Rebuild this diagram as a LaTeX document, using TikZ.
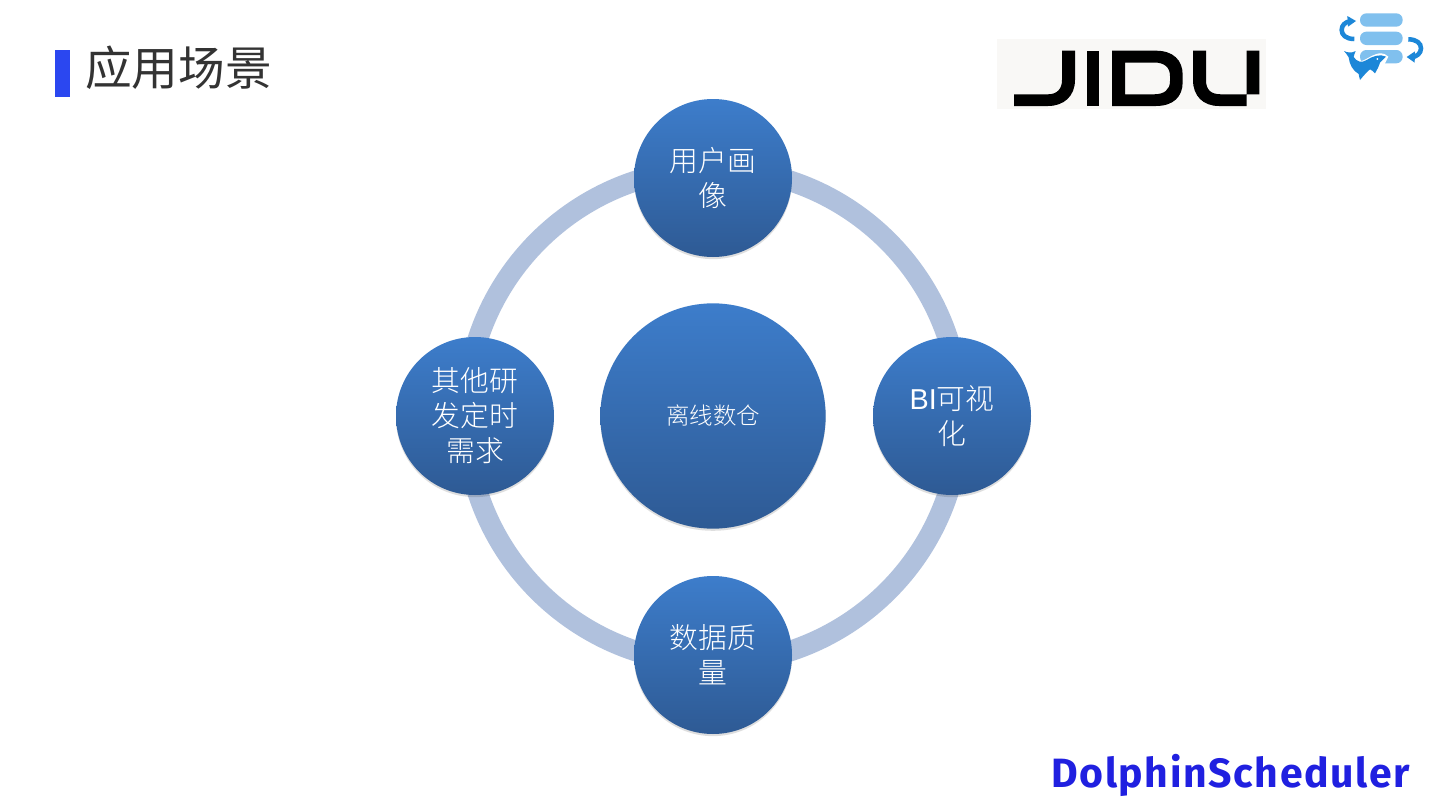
\documentclass[tikz,border=0pt]{standalone}
\usepackage{fontspec}
\usepackage{graphicx}
\setmainfont{Liberation Sans}
\newfontfamily\cjk{Noto Sans CJK SC}[UprightFont=* Light]
\newfontfamily\cjkr{Noto Sans CJK SC}
\newfontfamily\brand{Fira Sans}[UprightFont=* Bold,LetterSpace=4]
\usetikzlibrary{shadows}
\definecolor{ringc}{HTML}{B0C1DD}
\definecolor{topb}{HTML}{3D7DCB}
\definecolor{botb}{HTML}{2E5A94}
\definecolor{barblue}{HTML}{2B47F0}
\definecolor{iconlight}{HTML}{80C0EE}
\definecolor{icondark}{HTML}{1C87D8}
\definecolor{brandblue}{HTML}{2020E0}
\definecolor{logobg}{HTML}{F9F8F6}
\tikzset{
  ball/.style={circle,inner sep=0pt,top color=topb,bottom color=botb,text=white,align=center,
    general shadow={shadow yshift=-1.6pt,fill=black,opacity=.13}},
  sat/.style={ball,minimum size=118.5pt,font=\cjk\fontsize{21.6}{26.2}\selectfont},
  hub/.style={ball,minimum size=169pt,font=\cjk\fontsize{17.6}{21}\selectfont},
  ringnode/.style={circle,inner sep=0pt,draw=ringc,line width=15.5pt,minimum size=371pt},
  iconbar/.style={fill=iconlight,rounded corners=4.8pt},
  iconarc/.style={draw=icondark,line width=3.4pt},
}
\begin{document}
\begin{tikzpicture}[x=0.75pt,y=-0.75pt]
\useasboundingbox (0,0) rectangle (1440,810);
\fill[white] (0,0) rectangle (1440,810);
% title
\fill[barblue] (55,50) rectangle (70,97);
\node[anchor=west,inner sep=0pt,text=black!80,font=\cjkr\fontsize{35}{40}\selectfont] (title) at (85,68) {应用场景};
% ring and circles
\node[ringnode] (ring) at (713,416) {};
\node[hub] (main) at (713,416) {离线数仓};
\node[sat] (top) at (713,178) {用户画\\像};
\node[sat] (right) at (952,416) {{\fontspec{Liberation Sans}BI}可视\\化};
\node[sat] (bottom) at (713,655) {数据质\\量};
\node[sat] (left) at (475,416) {其他研\\发定时\\需求};
% JIDU logo
\fill[logobg] (997,39) rectangle (1266,109);
\fill[black] (1062,50.7) -- (1075,50.7) -- (1075,80) .. controls (1075,96) and (1064,106) .. (1048,106) -- (1014,106) -- (1014,94.3) -- (1048,94.3) .. controls (1057,94.3) and (1062,89) .. (1062,80) -- cycle;
\fill[black] (1086.7,50.7) rectangle (1099.3,106);
\fill[black,even odd rule] (1112,50.7) -- (1156,50.7) .. controls (1173,50.7) and (1182.7,60) .. (1182.7,75) -- (1182.7,82) .. controls (1182.7,97) and (1173,106) .. (1156,106) -- (1112,106) -- cycle
  (1125,62.5) -- (1154,62.5) .. controls (1164,62.5) and (1170,67) .. (1170,76) -- (1170,81) .. controls (1170,90) and (1164,94.3) .. (1154,94.3) -- (1125,94.3) -- cycle;
\fill[black] (1193,50.7) -- (1206,50.7) -- (1206,80) .. controls (1206,90) and (1211,94.3) .. (1221,94.3) -- (1246.7,94.3) -- (1246.7,50.7) -- (1259.3,50.7) -- (1259.3,94.3) -- (1246.7,94.3) -- (1246.7,106) -- (1219,106) .. controls (1203,106) and (1193,96) .. (1193,80) -- cycle;
% dolphin icon
\begin{scope}[shift={(1320,0)},x=0.25pt,y=-0.25pt]
\fill[iconbar] (120,40) rectangle (248,80);
\fill[iconbar] (120,95) rectangle (248,135);
\fill[iconbar] (120,150) rectangle (248,190);
\draw[iconarc] (92,63) .. controls (75,66) and (65,76) .. (65,90) .. controls (65,105) and (78,117) .. (103,117);
\fill[icondark] (82,48) -- (108,63) -- (84,80) -- cycle;
\draw[iconarc] (265,118) .. controls (290,118) and (303,130) .. (303,145) .. controls (303,160) and (290,170) .. (275,172);
\fill[icondark] (285,154) -- (260,171) -- (284,188) -- cycle;
\fill[white] (110,186) .. controls (135,185) and (150,165) .. (178,160) .. controls (190,160) and (200,163) .. (205,170) -- (190,200) -- (120,200) -- cycle;
\fill[icondark] (72,153) .. controls (82,158) and (95,160) .. (107,153)
  .. controls (104,160) and (102,165) .. (101,171)
  .. controls (110,185) and (125,190) .. (140,180)
  .. controls (155,170) and (180,160) .. (198,170)
  .. controls (192,176) and (186,182) .. (180,188)
  .. controls (177,198) and (172,208) .. (165,220)
  .. controls (160,214) and (156,211) .. (150,208)
  .. controls (140,216) and (130,228) .. (120,240)
  .. controls (118,233) and (117,228) .. (116,222)
  .. controls (98,212) and (88,192) .. (86,172)
  .. controls (82,165) and (78,160) .. (72,153) -- cycle;
\fill[white] (172,177) circle (3);
\end{scope}
% brand wordmark
\node[anchor=west,inner sep=0pt,text=brandblue,font=\brand\fontsize{35}{40}\selectfont] (brand) at (1051,775) {\resizebox{269pt}{!}{DolphinScheduler}};
\end{tikzpicture}
\end{document}
